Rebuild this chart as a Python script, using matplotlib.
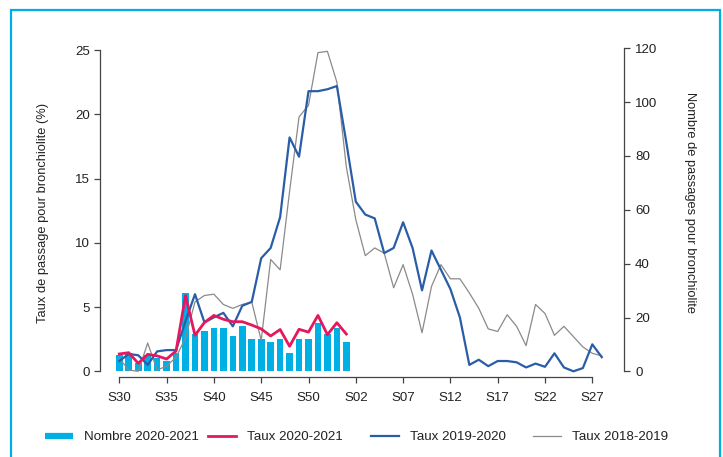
import matplotlib
matplotlib.use("Agg")
import matplotlib.pyplot as plt
from matplotlib.lines import Line2D
from matplotlib.patches import Rectangle
import numpy as np

plt.rcParams['font.family'] = ['Liberation Sans', 'DejaVu Sans']

# ---- data ----
weeks = [f"S{w}" for w in range(30, 54)] + [f"S{w:02d}" for w in range(1, 29)]
tick_labels = ["S30", "S35", "S40", "S45", "S50", "S02", "S07", "S12", "S17", "S22", "S27"]

nombre_2020_2021 = [6, 7, 3, 6, 5, 4, 7, 29, 14, 15, 16, 16, 13, 17, 12, 12, 11, 12, 7, 12,
                    12, 18, 14, 16, 11]
taux_2020_2021 = [1.35, 1.45, 0.62, 1.32, 1.2, 0.96, 1.58, 5.9, 2.8, 3.8, 4.35, 4.05, 3.86,
                  3.86, 3.6, 3.3, 2.75, 3.25, 1.95, 3.27, 3.05, 4.35, 2.85, 3.78, 2.9]
taux_2019_2020 = [0.8, 1.35, 1.25, 0.5, 1.55, 1.65, 1.65, 3.9, 6.0, 3.8, 4.2, 4.55, 3.5,
                  5.1, 5.4, 8.8, 9.6, 12.0, 18.2, 16.7, 21.8, 21.8, 21.95, 22.2, 17.8,
                  13.2, 12.2, 11.9, 9.2, 9.6, 11.6, 9.6, 6.3, 9.4, 7.9, 6.4, 4.2, 0.5,
                  0.9, 0.4, 0.8, 0.8, 0.7, 0.3, 0.6, 0.35, 1.4, 0.3, 0.0, 0.25, 2.1, 1.1]
taux_2018_2019 = [1.0, 0.1, 0.0, 2.2, 0.1, 0.4, 1.1, 2.6, 5.4, 5.9, 6.0, 5.2, 4.9, 5.2,
                  5.4, 2.4, 8.7, 7.9, 14.0, 19.8, 20.7, 24.8, 24.9, 22.5, 15.9, 11.8,
                  9.0, 9.6, 9.2, 6.5, 8.3, 6.0, 3.0, 6.6, 8.3, 7.2, 7.2, 6.1, 4.9, 3.3,
                  3.1, 4.4, 3.5, 2.0, 5.2, 4.5, 2.8, 3.5, 2.7, 1.9, 1.4, 1.2]

# ---- style ----
c_bar = "#00b0e4"
c_red = "#e5175f"
c_blue = "#2a5da8"
c_gray = "#8a8a8a"
c_spine = "#444444"
fs = 9.6

W, H = 723, 457
fig = plt.figure(figsize=(W / 100, H / 100), dpi=100)

ax_l, ax_r, ax_t, ax_b = 100, 624, 48, 376.7
ax = fig.add_axes([ax_l / W, 1 - ax_b / H, (ax_r - ax_l) / W, (ax_b - ax_t) / H])
ax2 = ax.twinx()
ax.set_zorder(ax2.get_zorder() + 1)
ax.patch.set_visible(False)

x_all = np.arange(len(weeks))
x_cur = np.arange(len(nombre_2020_2021))

ax2.bar(x_cur, nombre_2020_2021, width=0.7, color=c_bar, zorder=1)

ax.plot(x_all, taux_2018_2019, color=c_gray, lw=0.9, zorder=2)
ax.plot(x_all, taux_2019_2020, color=c_blue, lw=1.6, zorder=3)
ax.plot(x_cur, taux_2020_2021, color=c_red, lw=2.0, zorder=4)

ax.set_xlim(-2.04, 53.35)
ax.set_ylim(-0.42, 25.16)
ax2.set_ylim(-1.93, 120.04)

ticks_idx = [weeks.index(t) for t in tick_labels]
ax.set_xticks(ticks_idx)
ax.set_xticklabels(tick_labels)
ax.set_yticks([0, 5, 10, 15, 20, 25])
ax2.set_yticks([0, 20, 40, 60, 80, 100, 120])

for a in (ax, ax2):
    for s in a.spines.values():
        s.set_visible(False)

ax.spines['left'].set_visible(True)
ax.spines['left'].set_bounds(0, 25)
ax.spines['bottom'].set_visible(True)
ax.spines['bottom'].set_bounds(0, 50)
ax2.spines['right'].set_visible(True)
ax2.spines['right'].set_bounds(0, 120)
for s in (ax.spines['left'], ax.spines['bottom'], ax2.spines['right']):
    s.set_color(c_spine)
    s.set_linewidth(0.9)

ax.tick_params(axis='y', direction='out', length=4, width=0.9, color=c_spine,
               labelsize=fs, pad=3, labelcolor='#222222')
ax.tick_params(axis='x', direction='out', length=4, width=0.9, color=c_spine,
               labelsize=fs, pad=7, labelcolor='#222222')
ax2.tick_params(axis='y', direction='out', length=4, width=0.9, color=c_spine,
                labelsize=fs, pad=4, labelcolor='#222222')

ax.set_ylabel("Taux de passage pour bronchiolite (%)", fontsize=9.3, va='center',
              color='#222222')
ax.yaxis.set_label_coords((43 - ax_l) / (ax_r - ax_l), (ax_b - 213) / (ax_b - ax_t))
ax2.set_ylabel("Nombre de passages pour bronchiolite", fontsize=9.3, rotation=270,
               va='center', color='#222222')
ax2.yaxis.set_label_coords((690 - ax_l) / (ax_r - ax_l), (ax_b - 203) / (ax_b - ax_t))

# legend: four equal-width entries
handles = [Line2D([], [], color=c_bar, lw=4.5, solid_capstyle='butt'),
           Line2D([], [], color=c_red, lw=2.0),
           Line2D([], [], color=c_blue, lw=1.6),
           Line2D([], [], color=c_gray, lw=0.9)]
labels = ["Nombre 2020-2021", "Taux 2020-2021", "Taux 2019-2020", "Taux 2018-2019"]
starts = [45, 208, 371, 533]
for h, lab, sx in zip(handles, labels, starts):
    fig.legend([h], [lab], loc='center left',
               bbox_to_anchor=(sx / W, 1 - 437 / H),
               frameon=False, fontsize=fs, handlelength=2.1, handletextpad=0.8,
               borderpad=0, borderaxespad=0, labelcolor='#222222')

# cyan frame
fig.add_artist(Rectangle((11 / W, -0.05), (720 - 11) / W, (1 - 10 / H) + 0.05,
                         transform=fig.transFigure, fill=False, edgecolor="#00aee3",
                         lw=1.6))

fig.savefig("out.png", dpi=100)
